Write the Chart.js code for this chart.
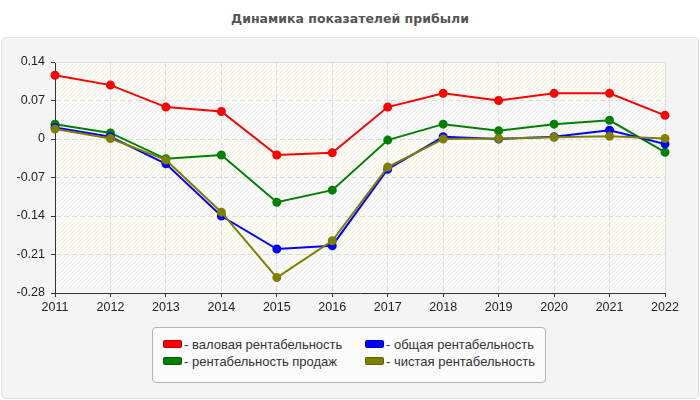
<!DOCTYPE html>
<html>
<head>
<meta charset="utf-8">
<script src="https://cdn.jsdelivr.net/npm/chart.js@4"></script>
<style>
  body { margin: 0; width: 700px; height: 400px; background: #fff; font-family: "Liberation Sans", Arial, sans-serif; overflow: hidden; position: relative; }
  #title { position: absolute; left: 0; top: 11px; width: 700px; text-align: center; font-family: "DejaVu Sans", sans-serif; font-weight: bold; font-size: 12.5px; color: #555; }
  #panel { position: absolute; left: 1px; top: 37px; width: 696px; height: 360px; background: #f4f4f4; border: 1px solid #e2e2e2; border-radius: 5px; }
  #wrap { position: absolute; left: 0; top: 37px; width: 700px; height: 290px; }
  #legend { position: absolute; left: 152px; top: 327px; width: 392px; height: 54px; background: #fbfbfb; border: 1px solid #b4b4b4; border-radius: 4px; font-size: 13px; color: #333; }
  .item { position: absolute; height: 15px; line-height: 15px; white-space: nowrap; }
  .sw { display: inline-block; width: 17px; height: 6px; border-radius: 2px; border: 1px solid rgba(0,0,0,0.25); vertical-align: 1px; margin-right: 2px; }
</style>
</head>
<body>
<div id="title">Динамика показателей прибыли</div>
<div id="panel"></div>
<div id="wrap"><canvas id="chart"></canvas></div>
<div id="legend"></div>
<script>
// years and profitability series
const years = ["2011","2012","2013","2014","2015","2016","2017","2018","2019","2020","2021","2022"];
const grossMargin = [0.116, 0.098, 0.058, 0.050, -0.029, -0.025, 0.058, 0.083, 0.070, 0.083, 0.083, 0.043];
const salesMargin = [0.027, 0.011, -0.036, -0.029, -0.115, -0.093, -0.002, 0.027, 0.015, 0.027, 0.034, -0.024];
const totalMargin = [0.021, 0.004, -0.045, -0.140, -0.200, -0.194, -0.055, 0.004, 0.000, 0.004, 0.016, -0.009];
const netMargin   = [0.018, 0.001, -0.038, -0.133, -0.252, -0.185, -0.051, 0.000, 0.001, 0.003, 0.005, 0.001];

const seriesNames = ["- валовая рентабельность", "- общая рентабельность", "- рентабельность продаж", "- чистая рентабельность"];
const seriesColors = ["#ff0000", "#0000ff", "#008000", "#808000"];
const seriesData = [grossMargin, totalMargin, salesMargin, netMargin];
const drawOrder = [3, 1, 2, 0];

const FONT = { family: "'Liberation Sans', Arial, sans-serif", size: 12.5 };

// diagonal hatch for the plot background
const hatch = (() => {
  const c = document.createElement("canvas");
  c.width = c.height = 4;
  const g = c.getContext("2d");
  g.fillStyle = "rgba(0,0,0,0.05)";
  for (let i = 0; i < 4; i++) g.fillRect(3 - i, i, 1, 1);
  return g.createPattern(c, "repeat");
})();

const plotBg = {
  id: "plotBg",
  beforeDraw(chart) {
    const { ctx, chartArea: a, scales: { y } } = chart;
    const ticks = y.ticks;
    ctx.save();
    for (let i = 0; i < ticks.length - 1; i++) {
      const y1 = y.getPixelForValue(ticks[i + 1].value);
      const y2 = y.getPixelForValue(ticks[i].value);
      ctx.fillStyle = i % 2 ? "#fdfdf6" : "#fafafa";
      ctx.fillRect(a.left, y1, a.right - a.left, y2 - y1);
    }
    ctx.fillStyle = hatch;
    ctx.fillRect(a.left, a.top, a.right - a.left, a.bottom - a.top);
    ctx.restore();
  },
  beforeDatasetsDraw(chart) {
    const { ctx, chartArea: a } = chart;
    ctx.save();
    ctx.strokeStyle = "#dedede";
    ctx.lineWidth = 1;
    ctx.beginPath();
    ctx.moveTo(a.left, a.top + 0.5);
    ctx.lineTo(a.right + 0.5, a.top + 0.5);
    ctx.lineTo(a.right + 0.5, a.bottom);
    ctx.stroke();
    ctx.restore();
  }
};

new Chart(document.getElementById("chart"), {
  type: "line",
  data: {
    labels: years,
    datasets: seriesData.map((d, i) => ({
      label: seriesNames[i],
      data: d,
      borderColor: seriesColors[i],
      backgroundColor: seriesColors[i],
      borderWidth: 2,
      pointRadius: 3.5,
      pointHoverRadius: 3.5,
      tension: 0,
      order: drawOrder[i],
    })),
  },
  options: {
    responsive: true,
    maintainAspectRatio: false,
    animation: false,
    layout: { padding: { left: 0, right: 35, top: 25, bottom: 0 } },
    plugins: { legend: { display: false }, tooltip: { enabled: false } },
    scales: {
      x: {
        offset: false,
        grid: { color: "#dcdcdc", tickColor: "#333", tickLength: 4 },
        border: { color: "#333", dash: [5, 3] },
        ticks: { font: FONT, color: "#222", padding: 3, maxRotation: 0, autoSkip: false },
        afterFit: (s) => { s.height = 34; },
      },
      y: {
        min: -0.28,
        max: 0.14,
        grid: { color: "#dcdcdc", tickColor: "#333", tickLength: 4 },
        border: { color: "#333", dash: [5, 3] },
        ticks: {
          stepSize: 0.07,
          font: FONT,
          color: "#222",
          padding: 6,
          callback: (v) => String(parseFloat(v.toFixed(2))),
        },
        afterFit: (s) => { s.width = 55; },
      },
    },
  },
  plugins: [plotBg],
});

// legend, two columns
const legend = document.getElementById("legend");
const cols = [10, 212];
const rows = [9, 26];
seriesNames.forEach((name, i) => {
  const el = document.createElement("div");
  el.className = "item";
  el.style.left = cols[i % 2] + "px";
  el.style.top = rows[Math.floor(i / 2)] + "px";
  el.innerHTML = `<span class="sw" style="background:${seriesColors[i]}"></span>${name}`;
  legend.appendChild(el);
});
</script>
</body>
</html>
